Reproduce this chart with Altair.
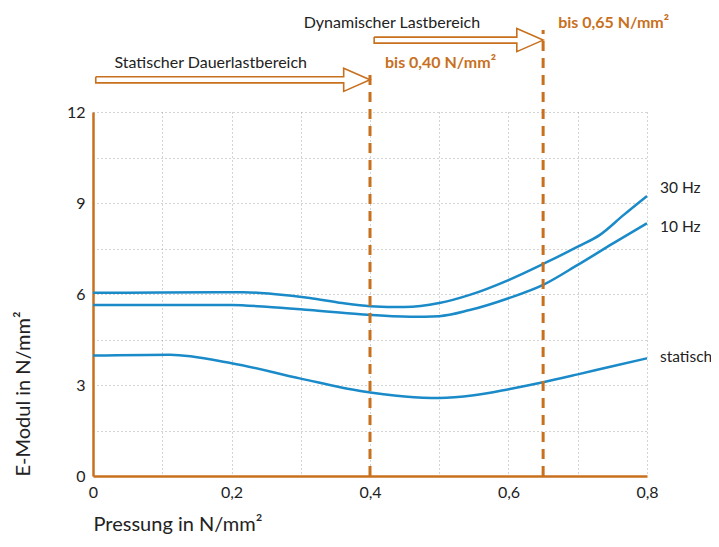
import altair as alt
import pandas as pd

# ---- data ----
x_30 = [0.0, 0.1, 0.217, 0.26, 0.313, 0.36, 0.4, 0.45, 0.5, 0.544, 0.6, 0.65, 0.7, 0.732, 0.766, 0.8]
y_30 = [6.04, 6.05, 6.06, 6.0, 5.87, 5.7, 5.6, 5.57, 5.7, 5.97, 6.46, 6.99, 7.56, 7.95, 8.6, 9.23]

x_10 = [0.0, 0.1, 0.2, 0.25, 0.313, 0.386, 0.458, 0.5, 0.544, 0.6, 0.65, 0.7, 0.751, 0.8]
y_10 = [5.64, 5.64, 5.64, 5.58, 5.47, 5.33, 5.25, 5.27, 5.47, 5.86, 6.3, 6.96, 7.67, 8.33]

x_st = [0.0, 0.111, 0.2, 0.3, 0.386, 0.45, 0.5, 0.55, 0.602, 0.65, 0.7, 0.75, 0.8]
y_st = [3.97, 4.0, 3.72, 3.21, 2.8, 2.62, 2.57, 2.66, 2.87, 3.09, 3.35, 3.62, 3.88]

series_names = ["30 Hz", "10 Hz", "statisch"]
series_label_y = [9.5, 8.21, 3.92]

x_ticks = [0.0, 0.1, 0.2, 0.3, 0.4, 0.5, 0.6, 0.7, 0.8]
y_ticks = [0, 1.5, 3, 4.5, 6, 7.5, 9, 10.5, 12]

thresholds = [0.40, 0.65]
threshold_labels = ["bis 0,40 N/mm²", "bis 0,65 N/mm²"]
range_labels = ["Statischer Dauerlastbereich", "Dynamischer Lastbereich"]
range_starts = [0.004, 0.406]
level = [13.06, 14.37]          # arrow level (y units above the plot)

ORANGE = "#c8701e"
BLUE = "#1a8ac8"
FONT = "Lato"

rows = []
for name, xs_, ys_ in zip(series_names, [x_30, x_10, x_st], [y_30, y_10, y_st]):
    for a, b in zip(xs_, ys_):
        rows.append({"series": name, "p": a, "e": b})
curves = pd.DataFrame(rows)

xs = alt.Scale(domain=[0, 0.8], nice=False, zero=False)
ys = alt.Scale(domain=[0, 12], nice=False)

x_axis = alt.Axis(
    values=x_ticks, title="Pressung in N/mm²", titleAnchor="start", titleAlign="left",
    labelExpr="round(datum.value*10) % 2 == 0 ? (datum.value == 0 ? '0' : replace(format(datum.value, '.1f'), '.', ',')) : ''",
    grid=True, gridDash=[1, 3], gridColor="#a8a8a8", gridWidth=1,
    domainColor=ORANGE, domainWidth=2.5, ticks=False, labelPadding=8,
    labelFlush=False, labelOverlap=False,
    titlePadding=14, labelFontSize=16, titleFontSize=20,
)
y_axis = alt.Axis(
    values=y_ticks, title="E-Modul in N/mm²", titleAnchor="start", titleAlign="left",
    labelExpr="datum.value % 3 == 0 ? datum.label : ''",
    grid=True, gridDash=[1, 3], gridColor="#a8a8a8", gridWidth=1,
    domainColor=ORANGE, domainWidth=2.5, ticks=False, labelPadding=8,
    labelFlush=False, labelOverlap=False,
    titlePadding=33, labelFontSize=16, titleFontSize=20,
)

lines = alt.Chart(curves).mark_line(color=BLUE, strokeWidth=2.5, interpolate="monotone").encode(
    x=alt.X("p:Q", scale=xs, axis=x_axis),
    y=alt.Y("e:Q", scale=ys, axis=y_axis),
    detail="series:N",
)

lab_df = pd.DataFrame({"series": series_names, "p": [0.8] * 3, "e": series_label_y})
series_text = alt.Chart(lab_df).mark_text(
    align="left", baseline="middle", dx=13, fontSize=15.5, font=FONT, color="#222"
).encode(x=alt.X("p:Q", scale=xs), y=alt.Y("e:Q", scale=ys), text="series:N")

thr_df = pd.DataFrame({
    "t": thresholds, "z": [0, 0], "top": [lv + 0.33 for lv in level], "lev": level,
    "tl": threshold_labels, "rl": range_labels, "s": range_starts,
})
dashed = alt.Chart(thr_df).mark_rule(color=ORANGE, strokeWidth=3, strokeDash=[10, 7]).encode(
    x=alt.X("t:Q", scale=xs), y=alt.Y("z:Q", scale=ys), y2="top:Q"
)

# arrow outlines
arr_rows = []
for i, (s, t, lv) in enumerate(zip(range_starts, thresholds, level)):
    hx = t - 0.038
    pts = [(s, lv + 0.1), (hx, lv + 0.1), (hx, lv + 0.38), (t, lv), (hx, lv - 0.38),
           (hx, lv - 0.1), (s, lv - 0.1), (s, lv + 0.1)]
    for k, (a, b) in enumerate(pts):
        arr_rows.append({"arrow": i, "k": k, "p": a, "e": b})
arr_df = pd.DataFrame(arr_rows)
arrows = alt.Chart(arr_df).mark_line(color=ORANGE, strokeWidth=1.6).encode(
    x=alt.X("p:Q", scale=xs), y=alt.Y("e:Q", scale=ys), order="k:Q", detail="arrow:N"
)

thr_text = alt.Chart(thr_df).mark_text(
    align="left", baseline="middle", dx=15, dy=-17, fontSize=16, fontWeight="bold", font=FONT, color=ORANGE
).encode(x=alt.X("t:Q", scale=xs), y=alt.Y("lev:Q", scale=ys), text="tl:N")

rng_text = alt.Chart(thr_df).mark_text(
    align="right", baseline="middle", dx=-63, dy=-17, fontSize=16, font=FONT, color="#222"
).encode(x=alt.X("t:Q", scale=xs), y=alt.Y("lev:Q", scale=ys), text="rl:N")

chart = alt.layer(lines, dashed, arrows, series_text, thr_text, rng_text).properties(
    width=554, height=364,
    autosize=alt.AutoSizeParams(type="none"),
    padding={"left": 85, "top": 104, "right": 64, "bottom": 62},
).configure_view(stroke=None).configure_axis(
    labelFont=FONT, titleFont=FONT, labelColor="#222", titleColor="#222", titleFontWeight="normal"
)

chart.save("out.html", embed_options={"renderer": "svg", "actions": False})
